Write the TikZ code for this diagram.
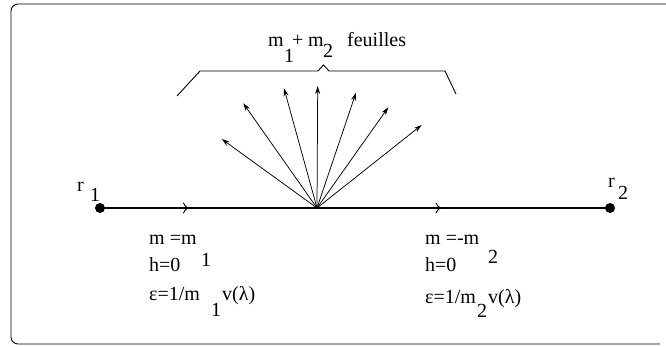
\documentclass[tikz,border=0pt]{standalone}
\usepackage{fontspec}
\setmainfont{Liberation Serif}
\usetikzlibrary{arrows.meta,decorations.markings}
\begin{document}
\begin{tikzpicture}[x=1pt,y=-1pt,
  txt/.style={anchor=base west,inner sep=0pt,font=\fontsize{20}{22}\selectfont},
  dot/.style={circle,fill=black,inner sep=0pt,minimum size=10pt},
  fan/.style={line width=0.75pt,-{Stealth[length=8pt,width=5pt]}},
  axis/.style={line width=1.2pt},
  midarrow/.style={postaction={decorate},decoration={markings,mark=at position #1 with {\arrow{To[length=6pt,width=11pt,line width=0.9pt]}}}}
]
\useasboundingbox (0,0) rectangle (666,347);
% frame
\draw[line width=0.9pt,rounded corners=7pt] (666,4) -- (11,4) -- (11,344) -- (660,344);

% points
\node[dot] (r1) at (100,208) {};
\node[dot] (r2) at (610,208) {};
\coordinate (O) at (317,208);

\draw[axis,midarrow=0.41] (r1.center) -- (O);
\draw[axis,midarrow=0.425] (O) -- (r2.center);

% fan
\coordinate (t1) at (221.7,139);
\coordinate (t2) at (243.3,103.3);
\coordinate (t3) at (284,88.3);
\coordinate (t4) at (317.7,86);
\coordinate (t5) at (356,92.7);
\coordinate (t6) at (388.3,107.3);
\coordinate (t7) at (421.7,125);
\foreach \t in {t1,t2,t3,t4,t5,t6,t7} \draw[fan] (O) -- (\t);

% brace
\coordinate (bl) at (177,96);
\coordinate (br) at (456,94);
\draw[line width=0.9pt] (bl) -- (200,71) -- (318,71) -- (323.5,65) -- (329,71) -- (445,71) -- (br);

% top label
\node[txt] (lm1) at (268,46.7) {m};
\node[txt] (ls1) at (284,63) {1};
\node[txt] (lp) at (292,46.7) {+};
\node[txt] (lm2) at (308,46.7) {m};
\node[txt] (ls2) at (323,58) {2};
\node[txt] (lf) at (347,46.7) {feuilles};

% r labels
\node[txt] (r1r) at (77,191.5) {r};
\node[txt] (r1s) at (90,201.5) {1};
\node[txt] (r2r) at (608,188) {r};
\node[txt] (r2s) at (618,200) {2};

% left block
\node[txt] (a1) at (149,245) {m =m};
\node[txt] (a1s) at (201,266) {1};
\node[txt] (a2) at (149,271.7) {h=0};
\node[txt] (a3) at (149,300) {ε=1/m};
\node[txt] (a3s) at (211,316.5) {1};
\node[txt] (a3v) at (222,300) {v(λ)};

% right block
\node[txt] (b1) at (425,245) {m =-m};
\node[txt] (b1s) at (488,263) {2};
\node[txt] (b2) at (425,271.7) {h=0};
\node[txt] (b3) at (425,303) {ε=1/m};
\node[txt] (b3s) at (477,317) {2};
\node[txt] (b3v) at (488,303) {v(λ)};
\end{tikzpicture}
\end{document}
